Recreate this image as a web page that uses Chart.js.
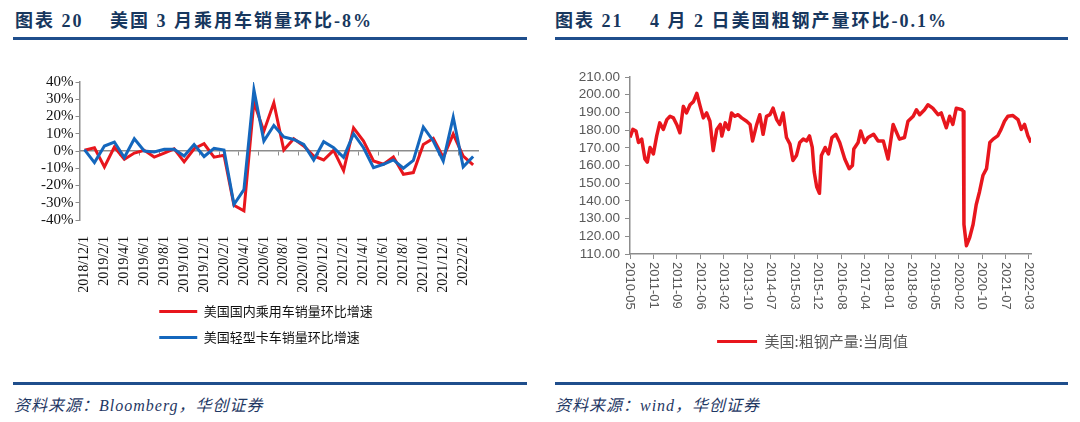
<!DOCTYPE html>
<html>
<head>
<meta charset="utf-8">
<script src="https://cdn.jsdelivr.net/npm/chart.js@4.4.1/dist/chart.umd.min.js"></script>
<style>
body { margin: 0; background: #fff; width: 1080px; height: 422px; position: relative; overflow: hidden;
       font-family: 'Liberation Serif', 'Noto Sans CJK SC', serif; }
.title { position: absolute; top: 6px; font-size: 18px; font-weight: bold; color: #17375e; white-space: pre; letter-spacing: 2px; }
.rule { position: absolute; height: 3px; background: #1f4e8c; }
.src { position: absolute; top: 392px; font-size: 16px; font-style: italic; color: #1f3864; white-space: pre; letter-spacing: 1px; }
canvas { position: absolute; }
</style>
</head>
<body>
<div class="title" style="left:15px">图表 20</div>
<div class="title" style="left:110px">美国 3 月乘用车销量环比-8%</div>
<div class="title" style="left:555px">图表 21</div>
<div class="title" style="left:650px">4 月 2 日美国粗钢产量环比-0.1%</div>
<div class="rule" style="left:13px;width:514px;top:37px"></div>
<div class="rule" style="left:555px;width:513px;top:37px"></div>

<canvas id="carChart" width="460" height="300" style="left:38px;top:60px"></canvas>
<canvas id="steelChart" width="485" height="300" style="left:570px;top:60px"></canvas>

<div class="rule" style="left:13px;width:514px;top:382px"></div>
<div class="rule" style="left:555px;width:513px;top:382px"></div>
<div class="src" style="left:14px">资料来源：Bloomberg，华创证券</div>
<div class="src" style="left:555px">资料来源：wind，华创证券</div>

<script>
// 左图：美国乘用车 / 轻型卡车销量环比（%）
const carMonths = ['2018/12/1', '2019/1/1', '2019/2/1', '2019/3/1', '2019/4/1', '2019/5/1', '2019/6/1', '2019/7/1',
    '2019/8/1', '2019/9/1', '2019/10/1', '2019/11/1', '2019/12/1', '2020/1/1', '2020/2/1', '2020/3/1', '2020/4/1',
    '2020/5/1', '2020/6/1', '2020/7/1', '2020/8/1', '2020/9/1', '2020/10/1', '2020/11/1', '2020/12/1', '2021/1/1',
    '2021/2/1', '2021/3/1', '2021/4/1', '2021/5/1', '2021/6/1', '2021/7/1', '2021/8/1', '2021/9/1', '2021/10/1',
    '2021/11/1', '2021/12/1', '2022/1/1', '2022/2/1', '2022/3/1'];
const carSales = [0.4, 1.9, -9.2, 2.3, -4.8, -1.2, 0.4, -3.5, -1.2, 1.3, -6.3, 1.3, 4.2, -3.6, -2.5, -31.5, -34.7,
    28.3, 11.5, 27.9, 0.6, 7.1, 2.9, -2.9, -5.2, 0.4, -11.4, 13.4, 5.8, -5.8, -7.7, -3.5, -13.5, -12.5, 3.8, 7.3,
    -3.8, 9.8, -2.9, -8.0];
const truckSales = [0.8, -6.7, 2.9, 5.2, -3.8, 7.1, 0.0, -0.6, 1.0, 1.0, -2.9, 3.7, -3.2, 1.6, 0.5, -31.0, -22.4,
    35.5, 5.8, 14.8, 8.1, 6.7, 3.8, -5.2, 5.4, 1.9, -3.7, 10.0, 1.9, -9.6, -7.7, -5.2, -10.0, -5.4, 13.8, 5.8,
    -5.8, 19.6, -9.2, -3.2];

// 右图：美国粗钢产量当周值（万吨）
const steelDates = ['2010-05-01', '2010-06-01', '2010-07-05', '2010-08-01', '2010-09-05', '2010-10-10', '2010-11-05',
    '2010-12-05', '2011-01-10', '2011-02-15', '2011-03-20', '2011-04-28', '2011-06-05', '2011-07-10', '2011-08-15',
    '2011-09-20', '2011-10-25', '2011-12-01', '2012-01-05', '2012-02-12', '2012-03-20', '2012-04-25', '2012-06-01',
    '2012-07-05', '2012-08-10', '2012-09-15', '2012-10-20', '2012-11-28', '2013-01-05', '2013-01-22', '2013-02-28',
    '2013-04-05', '2013-05-08', '2013-06-12', '2013-07-18', '2013-08-25', '2013-10-18', '2013-11-25', '2013-12-22',
    '2014-02-05', '2014-03-10', '2014-04-15', '2014-05-22', '2014-06-28', '2014-08-01', '2014-09-10', '2014-10-12',
    '2014-11-18', '2014-12-25', '2015-02-01', '2015-03-05', '2015-04-12', '2015-05-18', '2015-06-25', '2015-08-01',
    '2015-09-01', '2015-10-01', '2015-10-22', '2015-11-18', '2015-12-18', '2016-01-08', '2016-02-18', '2016-03-25',
    '2016-05-01', '2016-06-12', '2016-07-25', '2016-09-18', '2016-11-05', '2016-12-10', '2016-12-25', '2017-02-10',
    '2017-03-10', '2017-04-22', '2017-05-28', '2017-07-28', '2017-09-15', '2017-11-10', '2018-01-01', '2018-02-25',
    '2018-05-05', '2018-06-28', '2018-08-05', '2018-10-01', '2018-11-05', '2018-12-10', '2019-02-01', '2019-03-10',
    '2019-05-01', '2019-06-28', '2019-08-01', '2019-09-25', '2019-11-01', '2019-12-05', '2020-01-12', '2020-03-14',
    '2020-03-28', '2020-04-04', '2020-05-01', '2020-06-05', '2020-07-12', '2020-08-15', '2020-09-20', '2020-10-28',
    '2020-12-05', '2021-01-10', '2021-02-15', '2021-04-05', '2021-05-12', '2021-06-18', '2021-07-25', '2021-09-18',
    '2021-11-12', '2021-12-18', '2022-01-22', '2022-02-28', '2022-04-02'];
const steelOutput = [175.8, 180.4, 179.5, 173, 174.9, 163.7, 161.9, 170.2, 166.5, 176.7, 184.1, 180.4, 185.9, 187.8,
    186.9, 183.2, 178.5, 193.4, 189.7, 194.3, 196.1, 200.8, 193.4, 186.9, 189.7, 185, 168.4, 180.4, 183.2, 176.7,
    184.1, 180.4, 189.7, 187.8, 188.7, 186.9, 185, 183.2, 173.9, 183.2, 188.7, 177.6, 187.8, 188.7, 192.4, 185.9,
    183.2, 189.7, 175.8, 172.1, 162.8, 165.6, 173, 174.9, 173.9, 176.7, 170.2, 156.3, 148, 144.3, 165.6, 170.2,
    166.5, 175.8, 177.6, 173, 163.7, 158.2, 160, 169.3, 173, 179.5, 173, 175.8, 177.6, 173.9, 173.9, 163.7, 183.2,
    174.9, 175.8, 185, 187.8, 191.5, 188.7, 191.5, 194.3, 192.4, 188.7, 189.7, 181.3, 187.8, 183.2, 192.4, 191.5,
    190.5, 126.7, 114.7, 119.3, 126.7, 137.8, 145.2, 154.5, 158.2, 173, 174.9, 176.7, 180.4, 185, 187.8, 188.2,
    185.9, 180.4, 183.2, 176.7, 173];
const steelTicks = ['2010-05', '2011-01', '2011-09', '2012-06', '2013-02', '2013-10', '2014-07', '2015-03', '2015-12',
    '2016-08', '2017-04', '2018-01', '2018-09', '2019-05', '2020-02', '2020-10', '2021-07', '2022-03'];

const axisGray = '#8c8c8c';
const red = '#e8161d';
const blue = '#1467bd';
const serif = "'Liberation Serif', 'Noto Sans CJK SC'";
const cjk = "'Noto Sans CJK SC'";

// 图例画成细线，按数据集顺序排列
function lineLegend(chart) {
    const items = Chart.defaults.plugins.legend.labels.generateLabels(chart)
        .sort((a, b) => a.datasetIndex - b.datasetIndex);
    const longest = Math.max(...items.map(it => it.text.length));
    return items.map(it => Object.assign(it, {
        text: it.text.padEnd(longest, '\u3000'),
        fillStyle: it.strokeStyle,
        lineWidth: 0
    }));
}

const carChartConfig = {
    type: 'line',
    data: {
        labels: carMonths,
        datasets: [{
            label: '美国国内乘用车销量环比增速',
            data: carSales,
            borderColor: red,
            backgroundColor: red,
            borderWidth: 3,
            pointRadius: 0,
            order: 2
        }, {
            label: '美国轻型卡车销量环比增速',
            data: truckSales,
            borderColor: blue,
            backgroundColor: blue,
            borderWidth: 3,
            pointRadius: 0,
            order: 1
        }]
    },
    options: {
        responsive: false,
        animation: false,
        layout: { padding: { top: 22, right: 4, bottom: 6, left: 0 } },
        plugins: {
            legend: {
                position: 'bottom',
                labels: {
                    boxWidth: 38,
                    boxHeight: 3,
                    padding: 13,
                    color: '#111',
                    font: { size: 13, family: cjk },
                    generateLabels: lineLegend
                }
            },
            tooltip: { enabled: false }
        },
        scales: {
            x: {
                offset: true,
                grid: { display: false },
                border: { display: false },
                ticks: {
                    autoSkip: false,
                    minRotation: 90,
                    maxRotation: 90,
                    padding: 8,
                    color: '#111',
                    font: { size: 14, family: serif },
                    callback: (v, i) => (i % 2 === 0 ? carMonths[i] : '')
                },
                afterFit: s => { s.height = 72; }
            },
            x0: {
                type: 'category',
                axis: 'x',
                position: { y: 0 },
                offset: true,
                grid: {
                    offset: true,
                    drawOnChartArea: false,
                    tickLength: 4,
                    tickColor: ctx => (ctx.index % 2 === 0 ? axisGray : 'rgba(0,0,0,0)')
                },
                border: { color: axisGray, width: 1.5 },
                ticks: { display: false }
            },
            y: {
                min: -40,
                max: 40,
                grid: { drawOnChartArea: false, tickLength: 4, color: axisGray },
                border: { color: axisGray, width: 1.5 },
                ticks: {
                    stepSize: 10,
                    autoSkip: false,
                    padding: 2,
                    color: '#111',
                    font: { size: 15, family: serif },
                    callback: v => v + '%'
                },
                afterFit: s => { s.width = 41.5; }
            }
        }
    }
};

// 右图横轴标签顺时针竖排
const rotatedLabels = {
    id: 'rotatedLabels',
    afterDraw(chart) {
        const s = chart.scales.x;
        const ctx = chart.ctx;
        ctx.save();
        ctx.fillStyle = '#595959';
        ctx.font = "13px 'Liberation Sans'";
        ctx.textAlign = 'left';
        ctx.textBaseline = 'middle';
        s.ticks.forEach((t, k) => {
            ctx.save();
            ctx.translate(s.getPixelForValue(t.value), s.top + 8);
            ctx.rotate(Math.PI / 2);
            ctx.fillText(steelTicks[k], 0, 0);
            ctx.restore();
        });
        ctx.restore();
    }
};

const firstWeek = Date.parse(steelDates[0]);
const steelPoints = steelDates.map((d, i) => ({ x: (Date.parse(d) - firstWeek) / 6048e5, y: steelOutput[i] }));

const steelChartConfig = {
    type: 'line',
    data: {
        datasets: [{
            label: '美国:粗钢产量:当周值',
            data: steelPoints,
            borderColor: red,
            backgroundColor: red,
            borderWidth: 3.5,
            borderJoinStyle: 'round',
            pointRadius: 0
        }]
    },
    options: {
        responsive: false,
        animation: false,
        layout: { padding: { top: 17, right: 0, bottom: 1, left: 0 } },
        plugins: {
            legend: {
                position: 'bottom',
                labels: {
                    boxWidth: 40,
                    boxHeight: 3,
                    padding: 10,
                    color: '#595959',
                    font: { size: 15, family: cjk },
                    generateLabels: lineLegend
                }
            },
            tooltip: { enabled: false }
        },
        scales: {
            x: {
                type: 'linear',
                min: 0,
                max: steelPoints[steelPoints.length - 1].x,
                grid: { drawOnChartArea: false, tickLength: 5, color: axisGray },
                border: { color: axisGray, width: 1.5 },
                ticks: { display: false },
                afterBuildTicks: s => { s.ticks = steelTicks.map((t, k) => ({ value: k * 36.4 })); },
                afterFit: s => { s.height = 70; }
            },
            y: {
                min: 110,
                max: 210,
                grid: { drawOnChartArea: false, tickLength: 5, color: axisGray },
                border: { color: axisGray, width: 1.5 },
                ticks: {
                    stepSize: 10,
                    autoSkip: false,
                    padding: 5,
                    color: '#595959',
                    font: { size: 13.5, family: "'Liberation Sans'" },
                    callback: v => v.toFixed(2)
                },
                afterFit: s => { s.width = 60; }
            },
            // 右侧空白轴：只占位，让图例居中于整个面板
            yRight: {
                position: 'right',
                grid: { display: false },
                border: { display: false },
                ticks: { display: false },
                afterFit: s => { s.width = 24; }
            }
        }
    },
    plugins: [rotatedLabels]
};

const carChart = new Chart(document.getElementById('carChart'), carChartConfig);
const steelChart = new Chart(document.getElementById('steelChart'), steelChartConfig);
</script>
</body>
</html>
